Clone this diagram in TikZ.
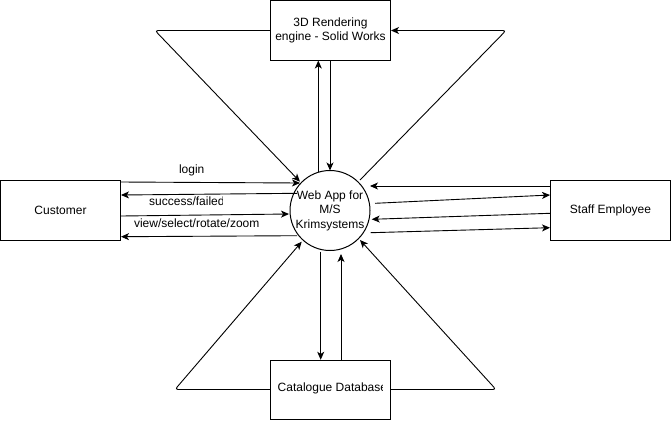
\documentclass[tikz,border=0pt]{standalone}
\usepackage{fontspec}
\setmainfont{Liberation Sans}
\usetikzlibrary{arrows.meta}
\begin{document}
\begin{tikzpicture}[x=1pt,y=-1pt,
  every node/.style={font=\fontsize{12}{14.5}\selectfont},
  box/.style={draw, line width=1pt, rectangle, minimum width=120pt, minimum height=59.5pt, inner sep=0pt, align=center},
  hub/.style={draw, line width=1pt, circle, minimum size=80pt, inner sep=0pt, align=center},
  lbl/.style={inner sep=0pt},
  conn/.style={line width=0.9pt, -{Stealth[length=8pt,width=7pt,inset=2.2pt]}},
  loop/.style={conn, rounded corners=3pt}]
\useasboundingbox (0,0) rectangle (671,421);
% nodes
\node[box] (render) at (330.5,30.25) {3D Rendering\\engine - Solid Works};
\node[box] (cust) at (60.5,210.25) {Customer};
\node[box] (staff) at (610.5,210.5) {Staff Employee};
\node[box] (cat) at (330.5,390) {};
\begin{scope}
  \clip (272,365) rectangle (382.8,415);
  \node[lbl, anchor=west] (cattext) at (277.5,388) {Catalogue Database};
\end{scope}
\node[hub] (web) at (330,210.5) {Web App for\\M/S\\Krimsystems};
% circle-side endpoints
\coordinate (c1) at (300,183);
\coordinate (c2) at (297,193.3);
\coordinate (c3) at (289,214);
\coordinate (c4) at (297,235.7);
\coordinate (s1) at (370,186);
\coordinate (s2) at (375,203.3);
\coordinate (s3) at (371.7,219.3);
\coordinate (s4) at (370.7,232.7);
\coordinate (t1) at (318.3,172);
\coordinate (t2) at (330,170.5);
\coordinate (tl) at (155,30.5);
\coordinate (tlend) at (300,181.7);
\coordinate (tr) at (506,30.5);
\coordinate (trstart) at (360,180);
\coordinate (b1) at (320.7,251.7);
\coordinate (b2) at (341,254);
\coordinate (bl) at (175,389.5);
\coordinate (blend) at (301.7,241.7);
\coordinate (br) at (496,389.5);
\coordinate (brend) at (360,240);
% customer connectors
\draw[conn] (cust.east |- 0,182) -- (c1);
\draw[conn] (c2) -- (cust.east |- 0,195);
\draw[conn] (cust.east |- 0,216) -- (c3);
\draw[conn] (c4) -- (cust.east |- 0,236.7);
% staff connectors
\draw[conn] (staff.west |- s1) -- (s1);
\draw[conn] (s2) -- (staff.west |- 0,195);
\draw[conn] (staff.west |- 0,213.3) -- (s3);
\draw[conn] (s4) -- (staff.west |- 0,227.7);
% top connectors
\draw[conn] (t1) -- (render.south -| t1);
\draw[conn] (render.south -| t2) -- (t2);
\draw[loop] (render.west |- tl) -- (tl) -- (tlend);
\draw[loop] (trstart) -- (tr) -- (render.east |- tr);
% bottom connectors
\draw[conn] (b1) -- (cat.north -| b1);
\draw[conn] (cat.north -| b2) -- (b2);
\draw[loop] (cat.west |- bl) -- (bl) -- (blend);
\draw[loop] (cat.east |- br) -- (br) -- (brend);
% labels
\node[lbl] (llogin) at (191.7,170.7) {login};
\begin{scope}
  \clip (140,193) rectangle (222.6,210);
  \node[lbl, anchor=west] (lsucc) at (149,201.7) {success/failed};
\end{scope}
\node[lbl] (lview) at (196.7,223.3) {view/select/rotate/zoom};
\end{tikzpicture}
\end{document}
